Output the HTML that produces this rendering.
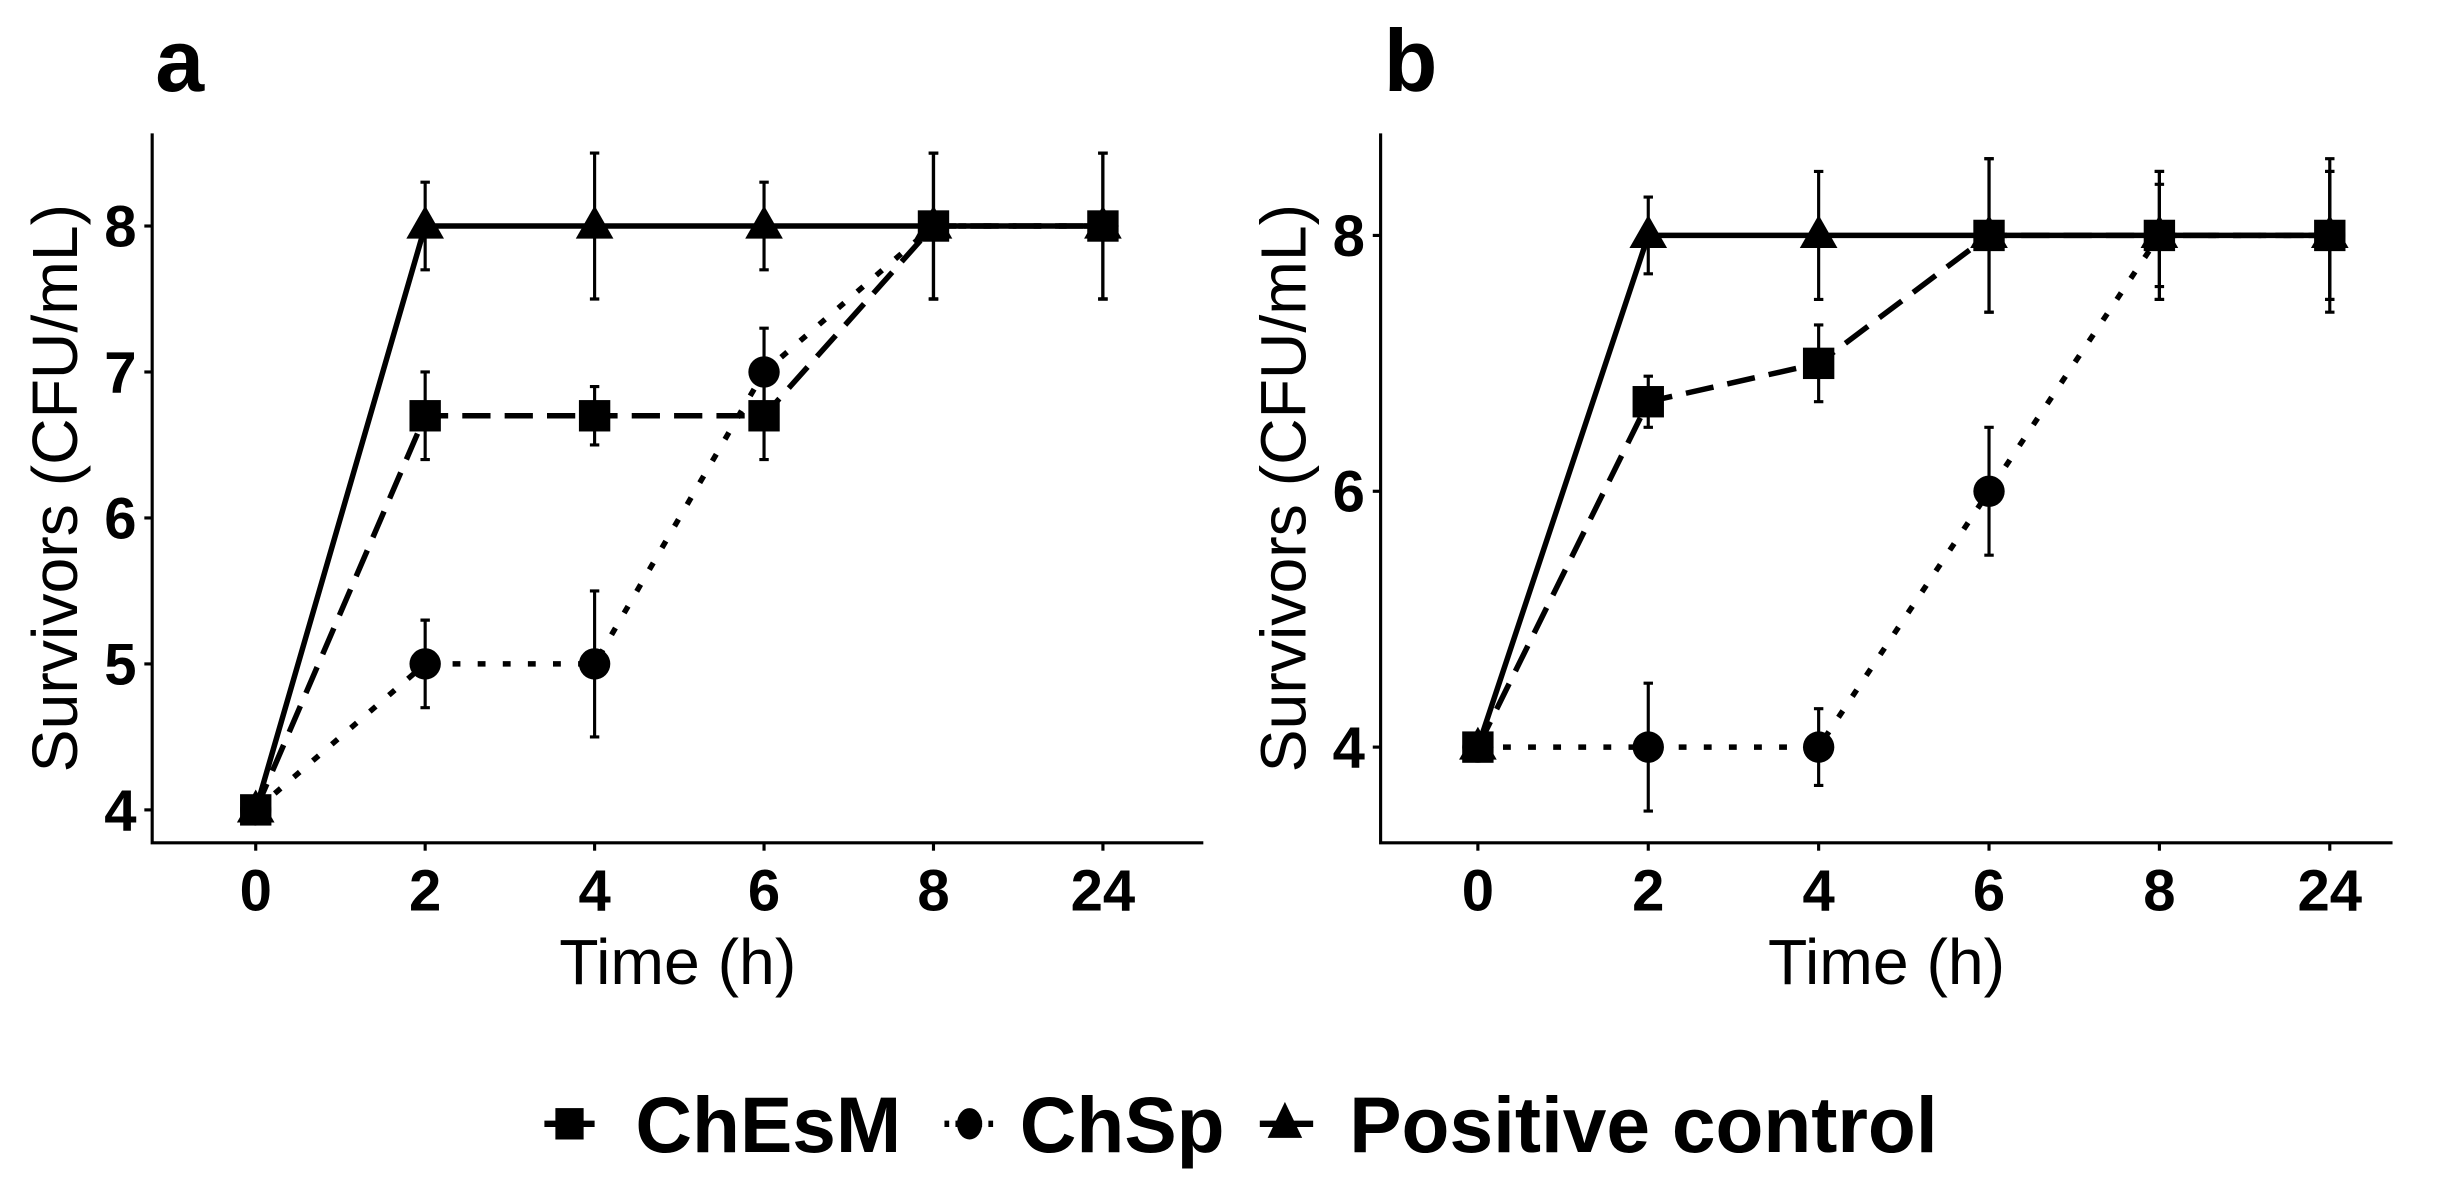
<!DOCTYPE html>
<html><head><meta charset="utf-8"><style>
html,body{margin:0;padding:0;background:#fff;}
svg{display:block;}
text{font-family:"Liberation Sans",Arial,sans-serif;fill:#000;}
</style></head><body>
<svg id="chart" width="2460" height="1196" viewBox="0 0 1568 762" preserveAspectRatio="none" xmlns="http://www.w3.org/2000/svg"></svg>
<script>
const categories = ["0","2","4","6","8","24"];
const aPositive = [4,8,8,8,8,8];
const aPositiveErr = [0,0.3,0.5,0.3,0.5,0.5];
const aChEsM = [4,6.7,6.7,6.7,8,8];
const aChEsMErr = [0,0.3,0.2,0.3,0.5,0.5];
const aChSp = [4,5,5,7,8,8];
const aChSpErr = [0,0.3,0.5,0.3,0.5,0.5];
const aTicks = [4,5,6,7,8];
const bPositive = [4,8,8,8,8,8];
const bPositiveErr = [0,0.3,0.5,0.6,0.5,0.6];
const bChEsM = [4,6.7,7,8,8,8];
const bChEsMErr = [0,0.2,0.3,0.6,0.5,0.5];
const bChSp = [4,4,4,6,8,8];
const bChSpErr = [0,0.5,0.3,0.5,0.4,0.5];
const bTicks = [4,6,8];

const NS="http://www.w3.org/2000/svg";
const svg=document.getElementById('chart');
function mk(tag,attrs,parent){const e=document.createElementNS(NS,tag);for(const k in attrs)e.setAttribute(k,attrs[k]);(parent||svg).appendChild(e);return e;}

function panel(p){
  const g=mk('g',{});
  
  
  const xs=i=>p.x0+i*p.dx;
  const ys=v=>p.y4-(v-4)*p.dy;
  const lbl=mk('text',{x:p.left+2,y:58,'font-size':56,'font-weight':'bold'},g);lbl.textContent=p.id;
  
  
  const ax=mk('path',{d:`M${p.left} 85 V537 H${p.right}`,stroke:'#000','stroke-width':2,fill:'none'},g);
  
  
  p.ticks.forEach(t=>{
    mk('line',{x1:p.left-5,x2:p.left,y1:ys(t),y2:ys(t),stroke:'#000','stroke-width':2},g);
    const tx=mk('text',{x:p.left-10,y:ys(t)+13,'font-size':37,'font-weight':'bold','text-anchor':'end'},g);tx.textContent=t;
    
    
  });
  categories.forEach((c,i)=>{
    mk('line',{x1:xs(i),x2:xs(i),y1:537,y2:542,stroke:'#000','stroke-width':2},g);
    const tx=mk('text',{x:xs(i),y:580,'font-size':37,'font-weight':'bold','text-anchor':'middle'},g);tx.textContent=c;
    
    
  });
  const xt=mk('text',{x:(p.left+p.right)/2,y:627,'font-size':41,'text-anchor':'middle'},g);xt.textContent='Time (h)';
  
  
  const yt=mk('text',{x:0,y:0,'font-size':41,'text-anchor':'middle',transform:`translate(${p.left-48},${(85+537)/2}) rotate(-90)`},g);yt.textContent='Survivors (CFU/mL)';
  
  
  const series=[
    {name:'chsp',v:p.sp,e:p.spE,dash:'5 11',mark:'circle'},
    {name:'chesm',v:p.es,e:p.esE,dash:'18 9',mark:'square'},
    {name:'positive-control',v:p.pos,e:p.posE,dash:'',mark:'triangle'}
  ];
  series.forEach(s=>{
    const sg=mk('g',{},g);
    
    
    const d=s.v.map((v,i)=>(i?'L':'M')+xs(i)+' '+ys(v)).join(' ');
    const ln=mk('path',{d:d,stroke:'#000','stroke-width':3.5,fill:'none','stroke-dasharray':s.dash},sg);
    
    
    s.v.forEach((v,i)=>{
      const x=xs(i),y=ys(v),e=s.e[i];
      if(e>0){
        const eb=mk('path',{d:`M${x} ${ys(v+e)} V${ys(v-e)} M${x-3} ${ys(v+e)} H${x+3} M${x-3} ${ys(v-e)} H${x+3}`,stroke:'#000','stroke-width':2,fill:'none'},sg);
        
        
      }
      let m;
      if(s.mark==='circle') m=mk('circle',{cx:x,cy:y,r:10},sg);
      else if(s.mark==='square') m=mk('rect',{x:x-10,y:y-10,width:20,height:20},sg);
      else m=mk('path',{d:`M${x} ${y-13} L${x+12} ${y+8} L${x-12} ${y+8}Z`},sg);
      
      
    });
  });
}
panel({id:'a',left:97,right:767,x0:163,dx:108,y4:516,dy:93,ticks:aTicks,pos:aPositive,posE:aPositiveErr,es:aChEsM,esE:aChEsMErr,sp:aChSp,spE:aChSpErr});
panel({id:'b',left:880,right:1525,x0:942,dx:108.6,y4:476,dy:81.5,ticks:bTicks,pos:bPositive,posE:bPositiveErr,es:bChEsM,esE:bChEsMErr,sp:bChSp,spE:bChSpErr});

// legend
const lg=mk('g',{});


const items=[
  {label:'ChEsM',x:347,tx:405,mark:'square',dash:'8 4'},
  {label:'ChSp',x:602,tx:650,mark:'circle',dash:'3 4'},
  {label:'Positive control',x:803,tx:860,mark:'triangle',dash:''}
];
items.forEach(it=>{
  const eg=mk('g',{},lg);
  
  
  const cy=716,cx=it.x+16;
  mk('line',{x1:it.x,x2:it.x+34,y1:cy,y2:cy,stroke:'#000','stroke-width':4,'stroke-dasharray':it.dash},eg);
  if(it.mark==='square') mk('rect',{x:cx-9,y:cy-10,width:18,height:20},eg);
  else if(it.mark==='circle') mk('ellipse',{cx:cx,cy:cy,rx:8,ry:10},eg);
  else mk('path',{d:`M${cx} ${cy-14} L${cx+11} ${cy+9} L${cx-11} ${cy+9}Z`},eg);
  const t=mk('text',{x:it.tx,y:cy+18,'font-size':50,'font-weight':'bold'},eg);t.textContent=it.label;
});
</script>
</body></html>
